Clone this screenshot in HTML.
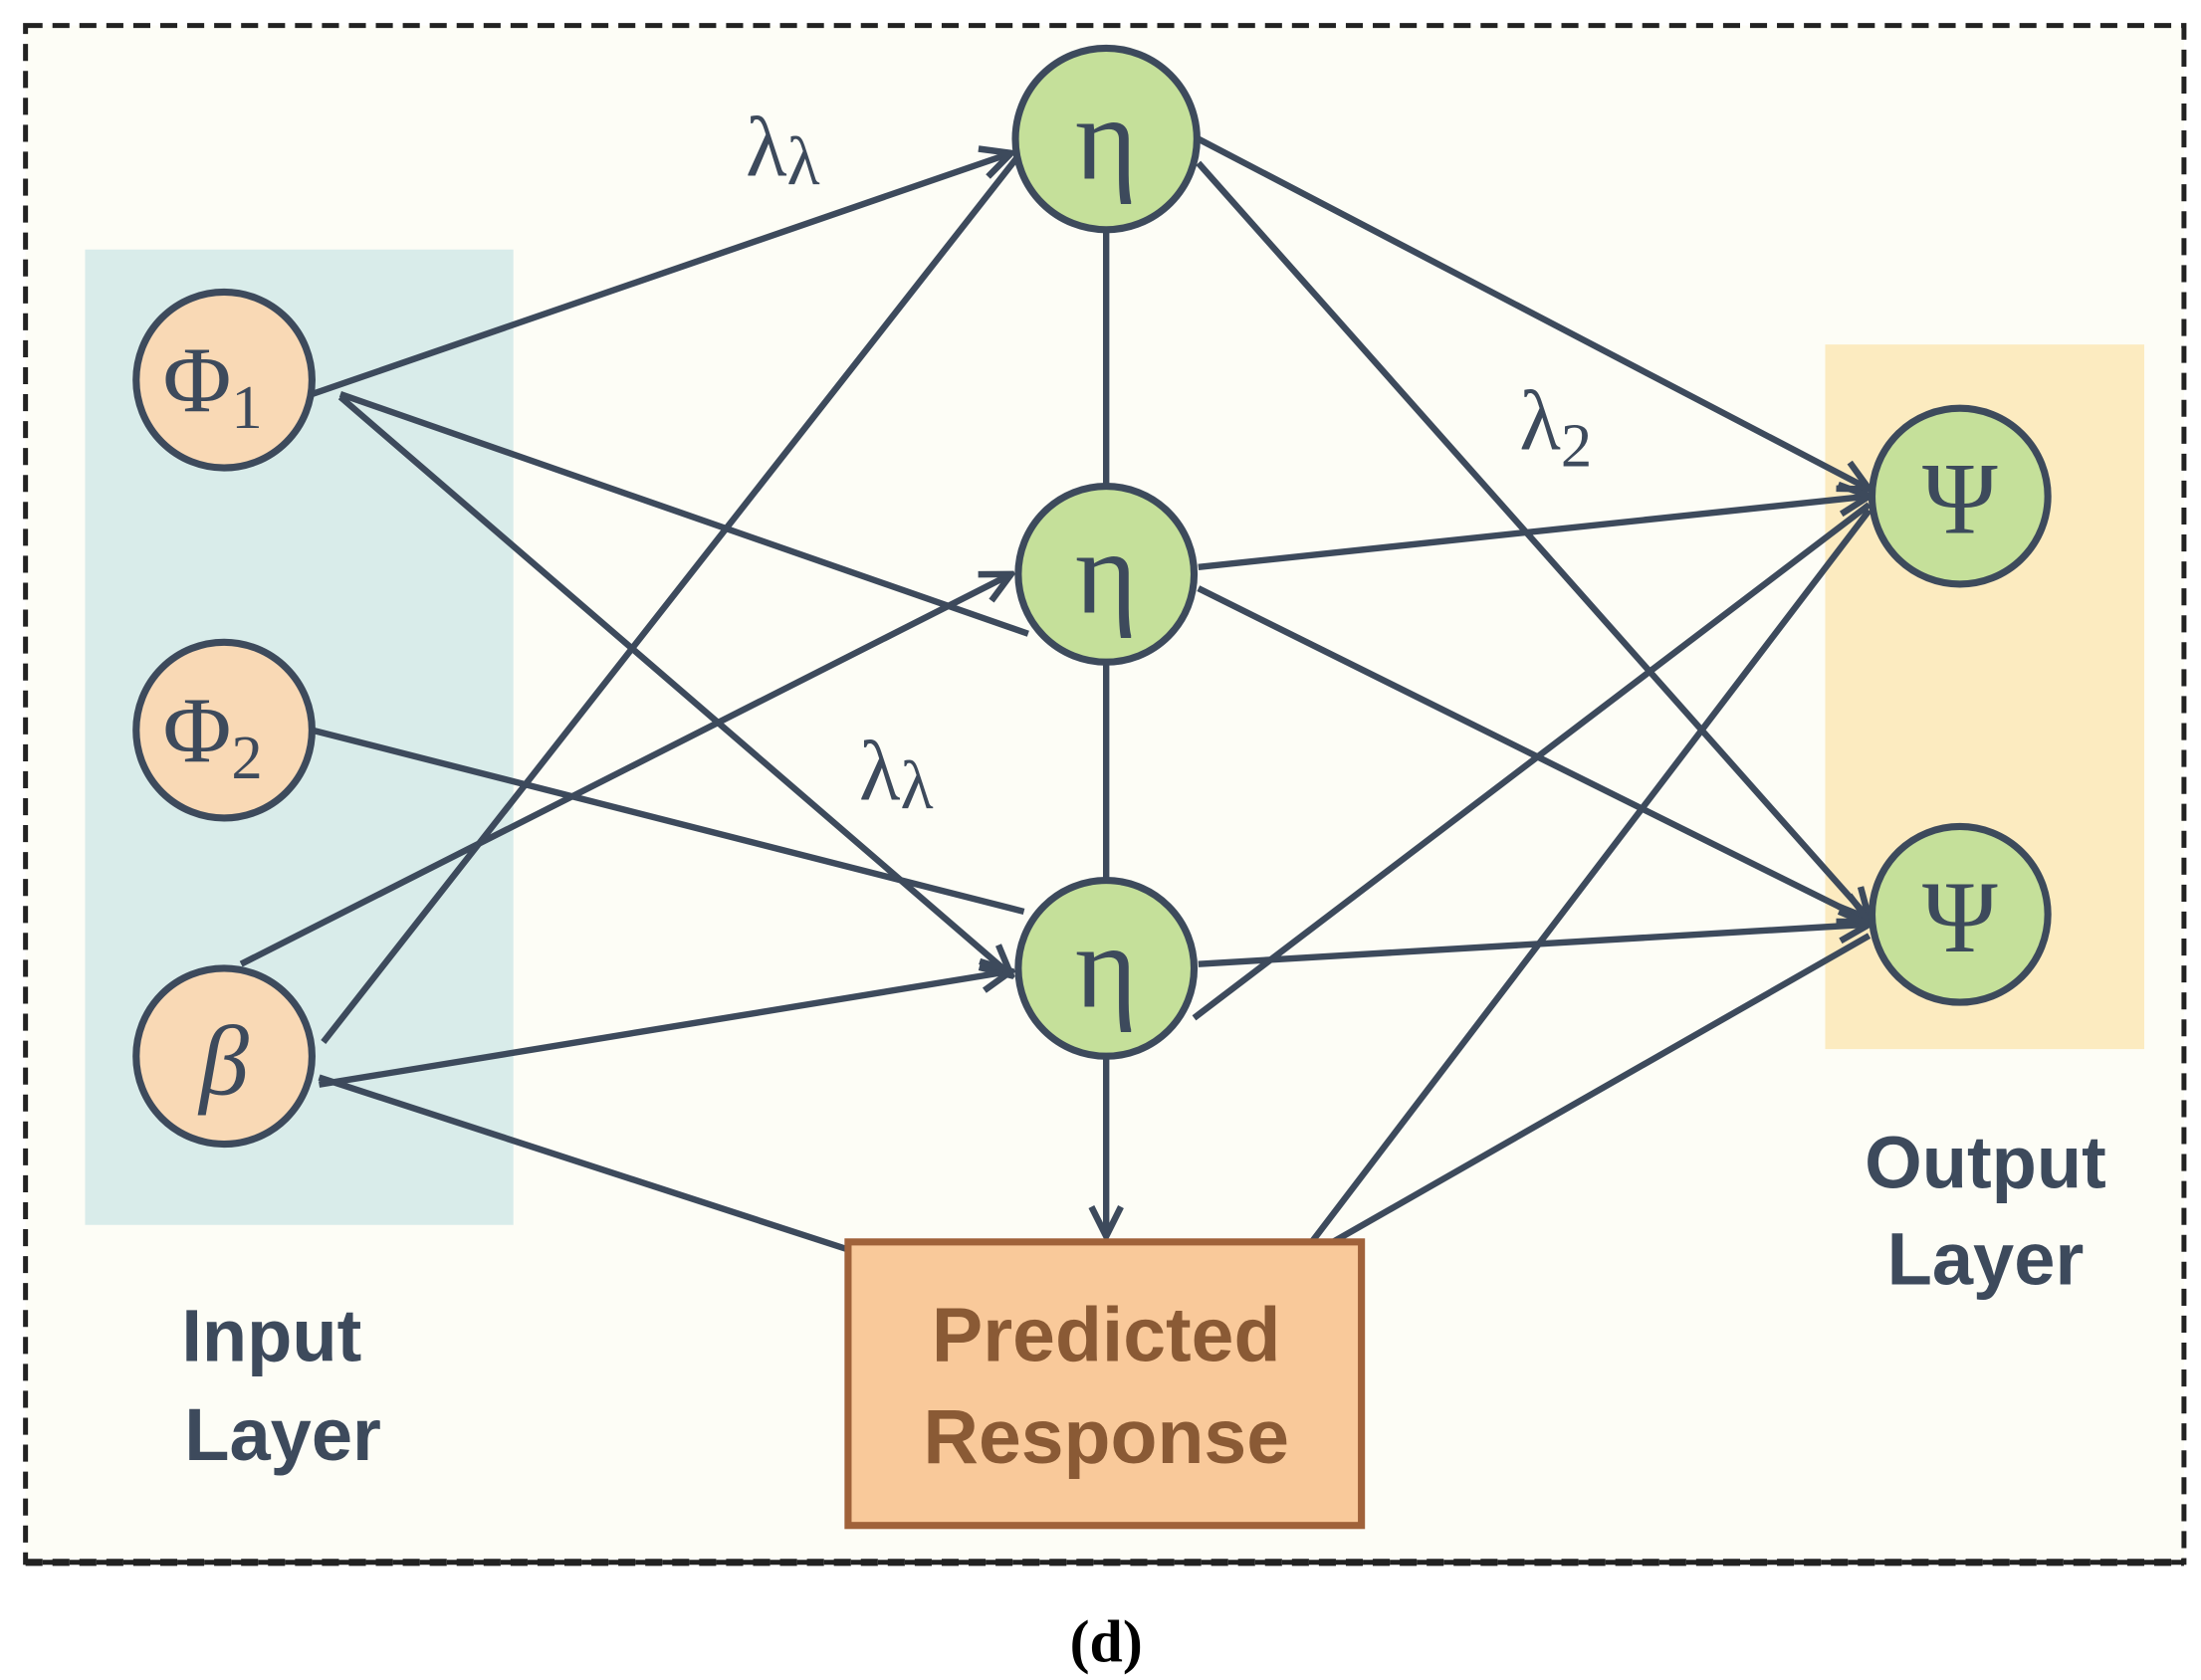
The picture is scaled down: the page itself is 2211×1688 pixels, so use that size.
<!DOCTYPE html>
<html><head><meta charset="utf-8"><style>
html,body{margin:0;padding:0;background:#fff;}
svg{display:block;}
</style></head><body>
<svg width="2211" height="1688" viewBox="0 0 1552 1185" preserveAspectRatio="none" xmlns="http://www.w3.org/2000/svg">
<defs>
<marker id="ar" viewBox="0 0 20 20" refX="18" refY="10" markerWidth="26" markerHeight="26" markerUnits="userSpaceOnUse" orient="auto">
<path d="M2,2 L18,10 L2,18" fill="none" stroke="#3d4a5c" stroke-width="3.5"/>
</marker>
</defs>
<rect x="0" y="0" width="1552" height="1185" fill="#ffffff"/>
<rect x="18" y="18" width="1522" height="1084" fill="#fdfdf6" stroke="#222" stroke-width="3.5" stroke-dasharray="12,7"/>
<line x1="18" y1="1102" x2="1540" y2="1102" stroke="#222" stroke-width="5" stroke-dasharray="12,7"/>
<rect x="60" y="176" width="302" height="688" fill="#d9ecea"/>
<rect x="1287" y="243" width="225" height="497" fill="#fcebc0"/>
<g stroke="#3d4a5c" stroke-width="4.5" fill="none">
<line x1="220" y1="278" x2="713" y2="108" marker-end="url(#ar)"/>
<line x1="240" y1="278" x2="725" y2="447"/>
<line x1="240" y1="280" x2="713" y2="688" marker-end="url(#ar)"/>
<line x1="220" y1="515" x2="722" y2="643"/>
<line x1="170" y1="680" x2="713" y2="405" marker-end="url(#ar)"/>
<line x1="228" y1="735" x2="722" y2="105"/>
<line x1="225" y1="765" x2="713" y2="685" marker-end="url(#ar)"/>
<line x1="225" y1="760" x2="600" y2="882"/>
<line x1="780" y1="160" x2="780" y2="345"/>
<line x1="780" y1="465" x2="780" y2="622"/>
<line x1="780" y1="745" x2="780" y2="872" marker-end="url(#ar)"/>
<line x1="845" y1="98" x2="1318" y2="345" marker-end="url(#ar)"/>
<line x1="845" y1="115" x2="1318" y2="648" marker-end="url(#ar)"/>
<line x1="845" y1="400" x2="1318" y2="350" marker-end="url(#ar)"/>
<line x1="845" y1="415" x2="1318" y2="650" marker-end="url(#ar)"/>
<line x1="845" y1="680" x2="1318" y2="652" marker-end="url(#ar)"/>
<line x1="842" y1="718" x2="1318" y2="356"/>
<line x1="925" y1="876" x2="1318" y2="360"/>
<line x1="940" y1="876" x2="1318" y2="660"/>
</g>
<g stroke="#3d4a5c" stroke-width="5">
<circle cx="158" cy="268" r="62" fill="#f9d9b5"/>
<circle cx="158" cy="515" r="62" fill="#f9d9b5"/>
<circle cx="158" cy="745" r="62" fill="#f9d9b5"/>
<circle cx="780" cy="98" r="64" fill="#c5e09a"/>
<circle cx="780" cy="405" r="62" fill="#c5e09a"/>
<circle cx="780" cy="683" r="62" fill="#c5e09a"/>
<circle cx="1382" cy="350" r="62" fill="#c5e09a"/>
<circle cx="1382" cy="645" r="62" fill="#c5e09a"/>
</g>
<rect x="598" y="876" width="362" height="200" fill="#f9c99a" stroke="#a0623a" stroke-width="5"/>
<g font-family="Liberation Serif, serif" fill="#3d4a5c" text-anchor="middle">
<text x="150" y="290" font-size="66">Φ<tspan font-size="44" dy="12">1</tspan></text>
<text x="150" y="537" font-size="66">Φ<tspan font-size="44" dy="12">2</tspan></text>
<text x="158" y="772" font-size="70" font-style="italic">β</text>
<text x="780" y="126" font-size="84">η</text>
<text x="780" y="432" font-size="84">η</text>
<text x="780" y="710" font-size="84">η</text>
<text x="1382" y="376" font-size="72">Ψ</text>
<text x="1382" y="671" font-size="72">Ψ</text>
<text x="552" y="124" font-size="60">λ<tspan font-size="48" dy="6">λ</tspan></text>
<text x="1097" y="317" font-size="60">λ<tspan font-size="44" dy="12">2</tspan></text>
<text x="632" y="564" font-size="60">λ<tspan font-size="48" dy="6">λ</tspan></text>
<text x="780" y="1172" font-size="42" font-weight="bold" fill="#000">(d)</text>
</g>
<g font-family="Liberation Sans, sans-serif" font-weight="bold" fill="#3d4a5c" font-size="52">
<text x="128" y="960">Input</text>
<text x="130" y="1030">Layer</text>
<text x="1400" y="838" text-anchor="middle">Output</text>
<text x="1400" y="906" text-anchor="middle">Layer</text>
<text x="780" y="960" text-anchor="middle" fill="#8a5a35" font-size="54">Predicted</text>
<text x="780" y="1032" text-anchor="middle" fill="#8a5a35" font-size="54">Response</text>
</g>
</svg>
</body></html>
